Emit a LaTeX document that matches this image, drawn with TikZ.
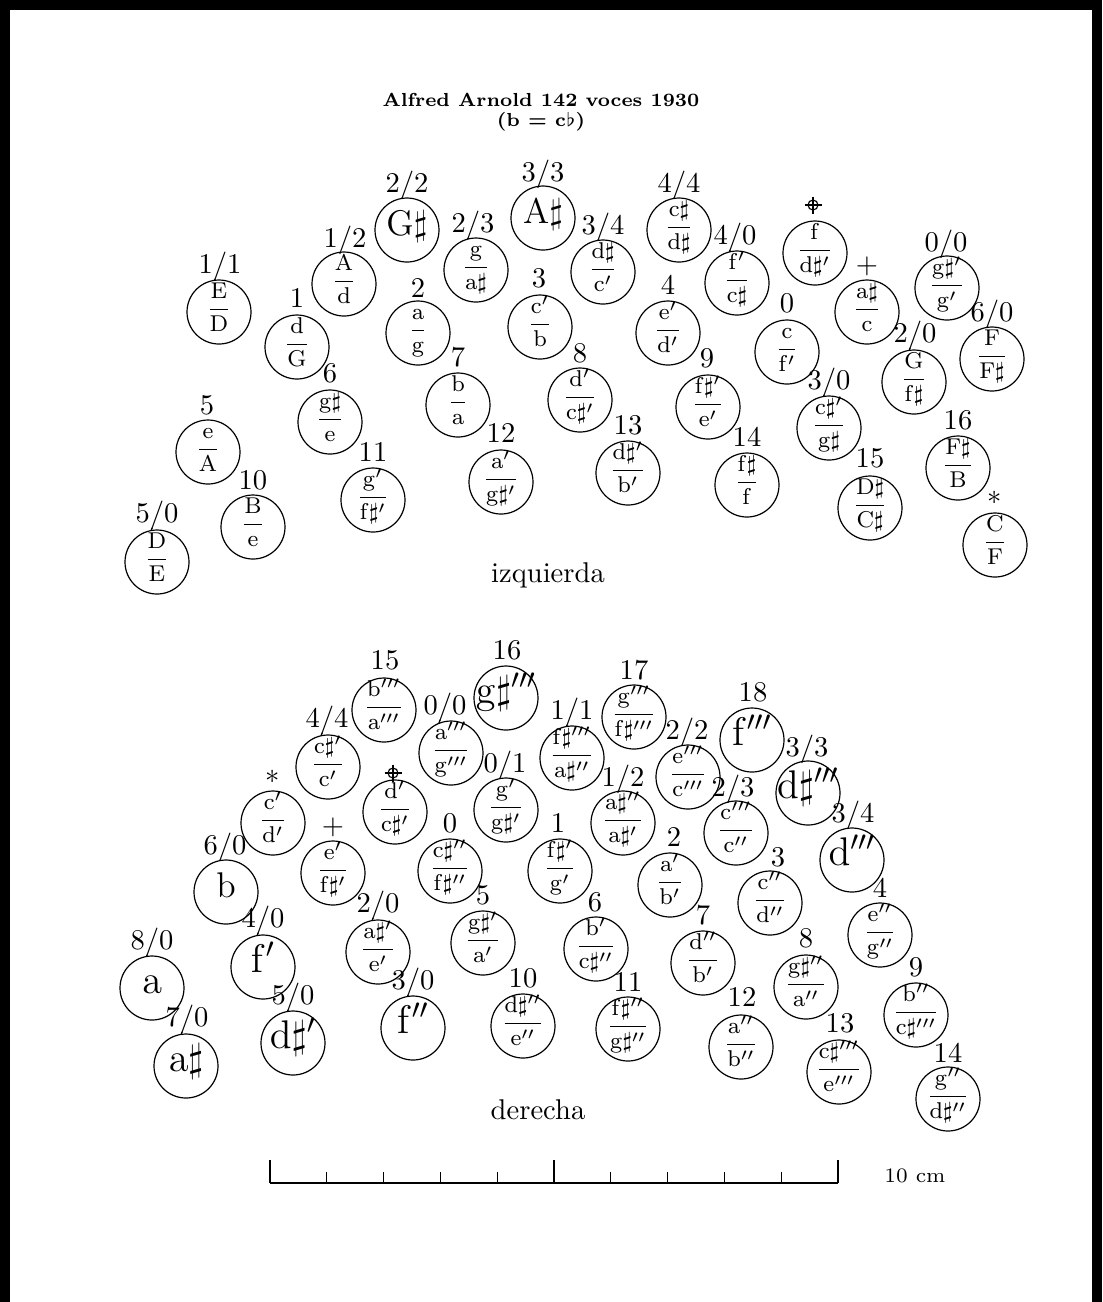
\RequirePackage{fix-cm}
\documentclass[tikz,border=0pt]{standalone}
\usetikzlibrary{calc}
\newcommand\fr[2]{\raisebox{-1pt}[0pt][0pt]{$\displaystyle\frac{\mathrm{#1}}{\mathrm{#2}}$}}
\newcommand\sg[1]{\raisebox{-1.8pt}[0pt][0pt]{$\mathrm{#1}$}}
\tikzset{
  btn/.style={circle, draw, line width=0.42pt, minimum size=22.4pt, inner sep=0pt, font=\fontsize{8}{9.6}\selectfont},
  bigs/.style={btn, font=\fontsize{14}{16}\selectfont},
  mids/.style={btn, font=\fontsize{12.5}{15}\selectfont},
  lab/.style={inner sep=0pt, font=\fontsize{10}{12}\selectfont},
  conn/.style={line width=0.42pt},
  cross/.style={circle, draw, line width=0.4pt, inner sep=0pt, minimum size=3.5pt},
  small/.style={inner sep=0pt, font=\fontsize{7.2}{9}\selectfont},
  ttl/.style={inner sep=0pt, font=\fontsize{6.6}{8}\selectfont\bfseries},
}
% slash extension from label (#1) to circle (#2)
\newcommand\slashln[2]{%
  \draw[conn] let \p1=(#1.center), \p2=(#2.center),
    \n1={\x1-\x2}, \n2={\y1-\y2},
    \n3={-2*(0.38*\n1+\n2)},
    \n4={\n1*\n1+\n2*\n2-11.2*11.2},
    \n5={max(4.5,(-\n3-sqrt(max(\n3*\n3-4*1.1444*\n4,0)))/(2*1.1444))}
  in ({\x1-1.71pt},{\y1-4.5pt}) -- ({\x1-0.38*\n5*1pt},{\y1-\n5*1pt});}
\newcommand\crossmark[2]{%
  \node[cross] (#1) at (#2) {};
  \draw[conn] (#1.center) ++(-8.5,0) -- ++(17,0);
  \draw[conn] (#1.center) ++(0,-8.5) -- ++(0,17);}
\begin{document}
\begin{tikzpicture}[x=0.35pt, y=-0.35pt]
\useasboundingbox (0,0) rectangle (1102,1302);
\fill[white] (0,0) rectangle (1102,1302);
\fill[black] (0,0) rectangle (1102,10);
\fill[black] (0,0) rectangle (10,1302);
\fill[black] (1092,0) rectangle (1102,1302);

% titles
\node[ttl] (title) at (541,100) {Alfred Arnold 142 voces 1930};
\node[ttl] (subtitle) at (541,122) {(b = c$\flat$)};

% ---------------- izquierda ----------------
\node[btn] (t1) at (219,312) {\fr{E}{D}};
\node[lab] (t1l) at (220,266) {1/1}; \slashln{t1l}{t1}
\node[btn] (t2) at (297,347) {\fr{d}{G}};
\node[lab] (t2l) at (297,298) {1};
\node[btn] (t3) at (344,284) {\fr{A}{d}};
\node[lab] (t3l) at (345,240) {1/2}; \slashln{t3l}{t3}
\node[mids] (t4) at (407,230) {\sg{G\sharp}};
\node[lab] (t4l) at (407,185) {2/2}; \slashln{t4l}{t4}
\node[btn] (t5) at (418,333) {\fr{a}{g}};
\node[lab] (t5l) at (418,288) {2};
\node[btn] (t6) at (330,422) {\fr{g\sharp}{e}};
\node[lab] (t6l) at (330,373) {6};
\node[btn] (t7) at (476,270) {\fr{g}{a\sharp}};
\node[lab] (t7l) at (473,225) {2/3}; \slashln{t7l}{t7}
\node[mids] (t8) at (543,218) {\sg{A\sharp}};
\node[lab] (t8l) at (543,174) {3/3}; \slashln{t8l}{t8}
\node[btn] (t9) at (540,327) {\fr{c'}{b}};
\node[lab] (t9l) at (539,278) {3};
\node[btn] (t10) at (603,272) {\fr{d\sharp}{c'}};
\node[lab] (t10l) at (603,227) {3/4}; \slashln{t10l}{t10}
\node[btn] (t11) at (679,230) {\fr{c\sharp}{d\sharp}};
\node[lab] (t11l) at (679,185) {4/4}; \slashln{t11l}{t11}
\node[btn] (t12) at (668,333) {\fr{e'}{d'}};
\node[lab] (t12l) at (668,285) {4};
\node[btn] (t13) at (737,283) {\fr{f'}{c\sharp}};
\node[lab] (t13l) at (735,237) {4/0}; \slashln{t13l}{t13}
\node[btn] (t14) at (458,405) {\fr{b}{a}};
\node[lab] (t14l) at (458,357) {7};
\node[btn] (t15) at (580,400) {\fr{d'}{c\sharp'}};
\node[lab] (t15l) at (580,353) {8};
\node[btn] (t16) at (708,407) {\fr{f\sharp'}{e'}};
\node[lab] (t16l) at (707,358) {9};
\node[btn] (t17) at (815,253) {\fr{f}{d\sharp'}};
\crossmark{t17l}{813,205}
\node[btn] (t18) at (867,312) {\fr{a\sharp}{c}};
\node[lab] (t18l) at (867,266) {$+$};
\node[btn] (t19) at (947,288) {\fr{g\sharp'}{g'}};
\node[lab] (t19l) at (946,244) {0/0}; \slashln{t19l}{t19}
\node[btn] (t20) at (787,352) {\fr{c}{f'}};
\node[lab] (t20l) at (787,303) {0};
\node[btn] (t21) at (914,382) {\fr{G}{f\sharp}};
\node[lab] (t21l) at (915,335) {2/0}; \slashln{t21l}{t21}
\node[btn] (t22) at (992,359) {\fr{F}{F\sharp}};
\node[lab] (t22l) at (992,314) {6/0}; \slashln{t22l}{t22}
\node[btn] (t23) at (829,428) {\fr{c\sharp'}{g\sharp}};
\node[lab] (t23l) at (829,382) {3/0}; \slashln{t23l}{t23}
\node[btn] (t24) at (208,452) {\fr{e}{A}};
\node[lab] (t24l) at (207,405) {5};
\node[btn] (t25) at (253,527) {\fr{B}{e}};
\node[lab] (t25l) at (253,480) {10};
\node[btn] (t26) at (157,562) {\fr{D}{E}};
\node[lab] (t26l) at (157,515) {5/0}; \slashln{t26l}{t26}
\node[btn] (t27) at (373,500) {\fr{g'}{f\sharp'}};
\node[lab] (t27l) at (373,452) {11};
\node[btn] (t28) at (501,482) {\fr{a'}{g\sharp'}};
\node[lab] (t28l) at (501,433) {12};
\node[btn] (t29) at (628,473) {\fr{d\sharp'}{b'}};
\node[lab] (t29l) at (628,425) {13};
\node[btn] (t30) at (747,485) {\fr{f\sharp}{f}};
\node[lab] (t30l) at (747,437) {14};
\node[btn] (t31) at (870,508) {\fr{D\sharp}{C\sharp}};
\node[lab] (t31l) at (870,458) {15};
\node[btn] (t32) at (958,468) {\fr{F\sharp}{B}};
\node[lab] (t32l) at (958,420) {16};
\node[btn] (t33) at (995,545) {\fr{C}{F}};
\node[lab] (t33l) at (995,498) {$\ast$};
\node[lab] (izq) at (548,575) {izquierda};

% ---------------- derecha ----------------
\node[btn] (b1) at (384,710) {\fr{b'''}{a'''}};
\node[lab] (b1l) at (385,660) {15};
\node[btn] (b2) at (328,767) {\fr{c\sharp'}{c'}};
\node[lab] (b2l) at (327,720) {4/4}; \slashln{b2l}{b2}
\node[btn] (b3) at (395,812) {\fr{d'}{c\sharp'}};
\crossmark{b3l}{393,773}
\node[btn] (b4) at (273,823) {\fr{c'}{d'}};
\node[lab] (b4l) at (273,777) {$\ast$};
\node[btn] (b5) at (333,873) {\fr{e'}{f\sharp'}};
\node[lab] (b5l) at (333,827) {$+$};
\node[mids] (b6) at (226,892) {\sg{b}};
\node[lab] (b6l) at (225,847) {6/0}; \slashln{b6l}{b6}
\node[bigs] (b7) at (506,698) {\sg{g\sharp'''}};
\node[lab] (b7l) at (507,650) {16};
\node[btn] (b8) at (451,753) {\fr{a'''}{g'''}};
\node[lab] (b8l) at (445,707) {0/0}; \slashln{b8l}{b8}
\node[btn] (b9) at (572,758) {\fr{f\sharp'''}{a\sharp''}};
\node[lab] (b9l) at (572,712) {1/1}; \slashln{b9l}{b9}
\node[btn] (b10) at (634,717) {\fr{g'''}{f\sharp'''}};
\node[lab] (b10l) at (634,670) {17};
\node[btn] (b11) at (506,810) {\fr{g'}{g\sharp'}};
\node[lab] (b11l) at (505,765) {0/1}; \slashln{b11l}{b11}
\node[btn] (b12) at (688,777) {\fr{e'''}{c'''}};
\node[lab] (b12l) at (687,732) {2/2}; \slashln{b12l}{b12}
\node[bigs] (b13) at (752,740) {\sg{f'''}};
\node[lab] (b13l) at (753,692) {18};
\node[btn] (b14) at (623,823) {\fr{a\sharp''}{a\sharp'}};
\node[lab] (b14l) at (623,779) {1/2}; \slashln{b14l}{b14}
\node[btn] (b15) at (736,833) {\fr{c'''}{c''}};
\node[lab] (b15l) at (733,789) {2/3}; \slashln{b15l}{b15}
\node[btn] (b16) at (450,871) {\fr{c\sharp''}{f\sharp''}};
\node[lab] (b16l) at (450,823) {0};
\node[btn] (b17) at (560,871) {\fr{f\sharp'}{g'}};
\node[lab] (b17l) at (558,823) {1};
\node[btn] (b18) at (670,885) {\fr{a'}{b'}};
\node[lab] (b18l) at (674,837) {2};
\node[bigs] (b19) at (808,793) {\sg{d\sharp'''}};
\node[lab] (b19l) at (807,749) {3/3}; \slashln{b19l}{b19}
\node[bigs] (b20) at (852,860) {\sg{d'''}};
\node[lab] (b20l) at (853,815) {3/4}; \slashln{b20l}{b20}
\node[btn] (b21) at (770,903) {\fr{c''}{d''}};
\node[lab] (b21l) at (778,857) {3};
\node[bigs] (b22) at (263,967) {\sg{f'}};
\node[lab] (b22l) at (263,920) {4/0}; \slashln{b22l}{b22}
\node[bigs] (b23) at (152,988) {\sg{a}};
\node[lab] (b23l) at (152,942) {8/0}; \slashln{b23l}{b23}
\node[bigs] (b24) at (186,1066) {\sg{a\sharp}};
\node[lab] (b24l) at (187,1019) {7/0}; \slashln{b24l}{b24}
\node[bigs] (b25) at (293,1043) {\sg{d\sharp'}};
\node[lab] (b25l) at (293,997) {5/0}; \slashln{b25l}{b25}
\node[btn] (b26) at (378,952) {\fr{a\sharp'}{e'}};
\node[lab] (b26l) at (378,905) {2/0}; \slashln{b26l}{b26}
\node[bigs] (b27) at (413,1028) {\sg{f''}};
\node[lab] (b27l) at (413,982) {3/0}; \slashln{b27l}{b27}
\node[btn] (b28) at (483,943) {\fr{g\sharp'}{a'}};
\node[lab] (b28l) at (483,895) {5};
\node[btn] (b29) at (523,1026) {\fr{d\sharp''}{e''}};
\node[lab] (b29l) at (523,978) {10};
\node[btn] (b30) at (596,949) {\fr{b'}{c\sharp''}};
\node[lab] (b30l) at (595,902) {6};
\node[btn] (b31) at (703,963) {\fr{d''}{b'}};
\node[lab] (b31l) at (703,915) {7};
\node[btn] (b32) at (628,1029) {\fr{f\sharp''}{g\sharp''}};
\node[lab] (b32l) at (628,982) {11};
\node[btn] (b33) at (741,1047) {\fr{a''}{b''}};
\node[lab] (b33l) at (742,997) {12};
\node[btn] (b34) at (806,987) {\fr{g\sharp''}{a''}};
\node[lab] (b34l) at (806,938) {8};
\node[btn] (b35) at (880,935) {\fr{e''}{g''}};
\node[lab] (b35l) at (880,888) {4};
\node[btn] (b36) at (839,1072) {\fr{c\sharp'''}{e'''}};
\node[lab] (b36l) at (840,1023) {13};
\node[btn] (b37) at (916,1015) {\fr{b''}{c\sharp'''}};
\node[lab] (b37l) at (916,967) {9};
\node[btn] (b38) at (948,1099) {\fr{g''}{d\sharp''}};
\node[lab] (b38l) at (948,1053) {14};
\node[lab] (der) at (538,1110) {derecha};

% scale bar
\draw[conn] (270,1183) -- (838,1183);
\foreach \i in {0,...,10}{
  \pgfmathsetmacro\tx{270+56.8*\i}
  \ifnum\i=0 \draw[conn] (\tx,1183) -- (\tx,1160);
  \else\ifnum\i=5 \draw[conn] (\tx,1183) -- (\tx,1160);
  \else\ifnum\i=10 \draw[conn] (\tx,1183) -- (\tx,1160);
  \else \draw[conn] (\tx,1183) -- (\tx,1172);
  \fi\fi\fi
}
\node[small] (cm) at (915,1176) {10 cm};
\end{tikzpicture}
\end{document}
